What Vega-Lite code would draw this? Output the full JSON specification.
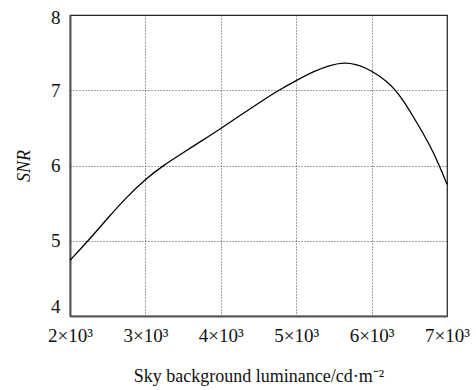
{
  "$schema": "https://vega.github.io/schema/vega-lite/v6.json",
  "width": 377,
  "height": 301,
  "autosize": {"type": "none"},
  "padding": {"left": 70, "top": 15, "right": 29, "bottom": 74},
  "background": "white",
  "config": {
    "font": "Liberation Serif",
    "view": {"stroke": "#222", "strokeWidth": 1.2},
    "axis": {
      "labelFont": "Liberation Serif",
      "titleFont": "Liberation Serif",
      "labelColor": "#111",
      "titleColor": "#111",
      "labelFontSize": 19,
      "titleFontSize": 18,
      "titleFontWeight": "normal",
      "ticks": false,
      "domainColor": "#555",
      "domainWidth": 2,
      "grid": true,
      "gridColor": "#333",
      "gridDash": [1, 2],
      "gridWidth": 1,
      "gridOpacity": 0.9
    }
  },
  "data": {
    "values": [
      {"lum": 2000, "snr": 4.74},
      {"lum": 2250, "snr": 5.01},
      {"lum": 2500, "snr": 5.3},
      {"lum": 2750, "snr": 5.58},
      {"lum": 3000, "snr": 5.82},
      {"lum": 3250, "snr": 6.01},
      {"lum": 3500, "snr": 6.17},
      {"lum": 3750, "snr": 6.33},
      {"lum": 4000, "snr": 6.49},
      {"lum": 4250, "snr": 6.66},
      {"lum": 4500, "snr": 6.83},
      {"lum": 4750, "snr": 6.99},
      {"lum": 5000, "snr": 7.13},
      {"lum": 5250, "snr": 7.26},
      {"lum": 5450, "snr": 7.335},
      {"lum": 5650, "snr": 7.37},
      {"lum": 5800, "snr": 7.34},
      {"lum": 5900, "snr": 7.305},
      {"lum": 6000, "snr": 7.255},
      {"lum": 6100, "snr": 7.19},
      {"lum": 6200, "snr": 7.115},
      {"lum": 6300, "snr": 7.02},
      {"lum": 6400, "snr": 6.895},
      {"lum": 6553, "snr": 6.65},
      {"lum": 6775, "snr": 6.27},
      {"lum": 6898, "snr": 6.0},
      {"lum": 7000, "snr": 5.75}
    ]
  },
  "mark": {"type": "line", "color": "black", "strokeWidth": 1.3, "interpolate": "basis"},
  "encoding": {
    "x": {
      "field": "lum",
      "type": "quantitative",
      "scale": {"domain": [2000, 7000], "nice": false, "zero": false},
      "axis": {
        "values": [2000, 3000, 4000, 5000, 6000, 7000],
        "labelExpr": "datum.value/1000 + '×10³'",
        "labelPadding": 10,
        "labelFlush": false,
        "title": "Sky background luminance/cd·m⁻²",
        "titlePadding": 22
      }
    },
    "y": {
      "field": "snr",
      "type": "quantitative",
      "scale": {"domain": [4, 8], "nice": false, "zero": false},
      "axis": {
        "values": [4, 5, 6, 7, 8],
        "labelPadding": 10,
        "labelFlush": false,
        "labelBaseline": {"condition": {"test": "datum.value == 4", "value": "bottom"}, "value": "middle"},
        "labelOffset": {"condition": {"test": "datum.value == 8", "value": 2}, "value": 0},
        "title": "SNR",
        "titleFontStyle": "italic",
        "titlePadding": 17
      }
    }
  }
}
